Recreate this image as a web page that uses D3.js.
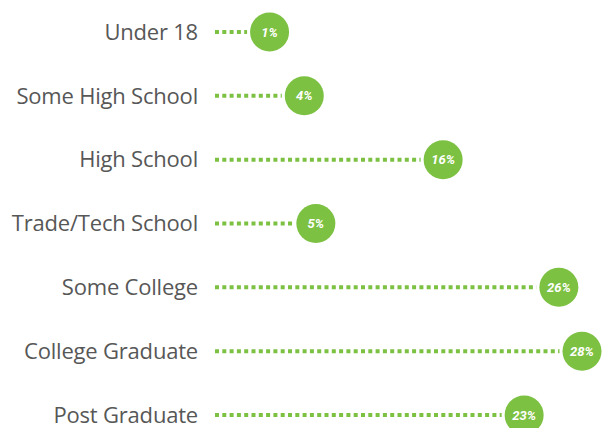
<!DOCTYPE html>
<html>
<head>
<meta charset="utf-8">
<script src="https://cdn.jsdelivr.net/npm/d3@7"></script>
<style>
  body { margin: 0; background: #fff; }
  svg { display: block; }
</style>
</head>
<body>
<svg width="610" height="428"></svg>
<script>
// education levels and share of respondents (%)
var categories = ["Under 18", "Some High School", "High School", "Trade/Tech School",
                  "Some College", "College Graduate", "Post Graduate"];
var values = [1, 4, 16, 5, 26, 28, 23];

var green = "#7cc142";
var r = 19.5;
var lineStart = 215;

var svg = d3.select("svg");

var yScale = d3.scalePoint().domain(categories).range([32, 415]);
// circle centre follows the value
var xScale = d3.scaleLinear().domain([0, 28]).range([258, 582]);

var rows = svg.selectAll("g.row")
  .data(categories)
  .enter()
  .append("g")
    .attr("class", "row")
    .attr("transform", d => `translate(0,${yScale(d)})`);

rows.append("text")
  .attr("x", 198)
  .attr("dy", "0.35em")
  .attr("text-anchor", "end")
  .style("font-family", "'Open Sans', sans-serif")
  .style("font-size", "22px")
  .style("letter-spacing", "-0.2px")
  .style("fill", "#575757")
  .text(d => d);

// dotted leader line up to the circle
rows.append("line")
  .attr("x1", lineStart)
  .attr("x2", (d, i) => xScale(values[i]) - r - 3)
  .attr("y1", 0).attr("y2", 0)
  .style("stroke", green)
  .style("stroke-width", 4)
  .style("stroke-dasharray", "4,3.3");

rows.append("circle")
  .attr("cx", (d, i) => xScale(values[i]))
  .attr("r", r)
  .style("fill", green);

rows.append("text")
  .attr("x", (d, i) => xScale(values[i]))
  .attr("dy", "0.35em")
  .attr("text-anchor", "middle")
  .style("font-family", "Roboto, sans-serif")
  .style("font-size", "13px")
  .style("font-weight", "bold")
  .style("font-style", "italic")
  .style("fill", "#fff")
  .text((d, i) => values[i] + "%");
</script>
</body>
</html>
